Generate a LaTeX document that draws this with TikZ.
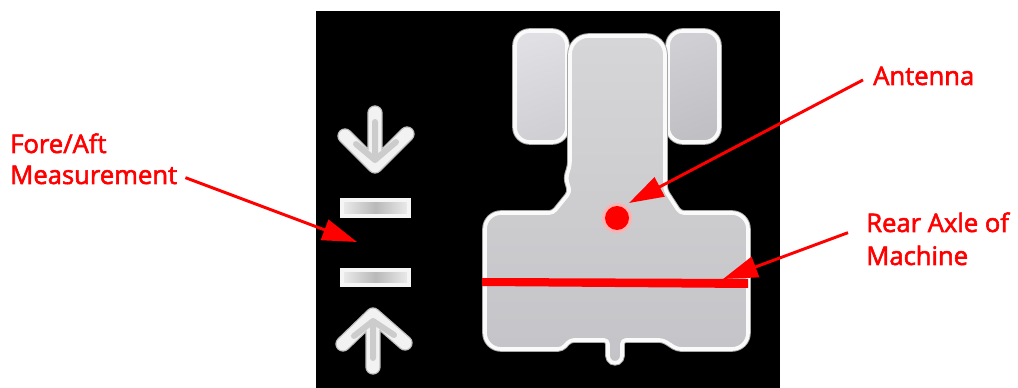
\documentclass[tikz,border=0pt]{standalone}
\usepackage{fontspec}
\setmainfont[FakeBold=2.2]{Open Sans}
\usetikzlibrary{arrows.meta}
\definecolor{callred}{RGB}{255,0,0}
\definecolor{wheelA}{RGB}{224,224,228}
\definecolor{wheelB}{RGB}{208,208,212}
\definecolor{wheelC}{RGB}{208,208,212}
\definecolor{wheelD}{RGB}{192,192,196}
\definecolor{bodyA}{RGB}{214,214,216}
\definecolor{bodyB}{RGB}{196,196,200}
\tikzset{
  px/.style={x=0.75pt,y=-0.75pt},
  lab/.style={text=callred,font=\fontsize{19.2pt}{24pt}\selectfont,inner sep=0pt,align=left},
  callout/.style={draw=callred,line width=2.2pt,-{Triangle[length=26pt,width=16pt,fill=callred]}},
  shapeedge/.style={preaction={draw=gray!70,line width=4.2pt},draw=white!96!gray,line width=2.8pt,line join=round},
  wheel/.style 2 args={shapeedge,rounded corners=11pt,left color=#1,right color=#2,shading angle=20},
  vehicle/.style={shapeedge,rounded corners=3pt,top color=bodyA,bottom color=bodyB},
  chevron/.style={line cap=round,line join=round,draw=gray!10,line width=9.5pt,
    preaction={draw=gray!50,line width=11.5pt,line cap=round,line join=round}},
  chevroncore/.style={line cap=round,line join=round,draw=gray!40,line width=4.5pt},
  barshape/.style={draw=gray!8,line width=2.4pt,left color=gray!15,right color=gray!15,middle color=gray!55,
    preaction={draw=gray!60,line width=3.6pt}},
}
\begin{document}
\begin{tikzpicture}[px]
\useasboundingbox (0,0) rectangle (1018,388);
\fill[white] (0,0) rectangle (1018,388);
\fill[black] (316,11) rectangle (780,388);
% left indicator
\draw[chevron] (375,113) -- (375,164) (345,136) -- (375,166) -- (407,134);
\draw[chevroncore] (375,122) -- (375,158) (356,144) -- (375,160) -- (396,142);
\path[barshape] (342,200) rectangle (409,216);
\path[barshape] (342,270) rectangle (409,285);
\draw[chevron] (373,367) -- (373,316) (343,344) -- (373,315) -- (405,343);
\draw[chevroncore] (373,358) -- (373,322) (354,336) -- (373,321) -- (394,335);
% machine
\path[wheel={wheelA}{wheelB}] (515,31) rectangle (567,142);
\path[wheel={wheelC}{wheelD}] (668,31) rectangle (719,142);
\path[vehicle] (570,142) [rounded corners=14pt] -- (570,36) -- (665,36) [rounded corners=3pt] -- (665,190) -- (680,213)
  [rounded corners=12pt] -- (748,213) -- (748,349) [rounded corners=3pt] -- (677,349) -- (663,340) -- (622,340) -- (622,360) -- (615,364) -- (608,360) -- (608,340) -- (570,340) -- (562,349)
  [rounded corners=12pt] -- (485,349) -- (485,213) [rounded corners=3pt] -- (553,213) -- (570,192) -- (566,178) -- (570,165) -- cycle;
% details
\fill[red!30!white] (617,218) circle[radius=15];
\node[circle,fill=callred,minimum size=18pt,inner sep=0pt] (dot) at (617,218) {};
\fill[callred] (482,278) -- (748,279) -- (748,288) -- (482,286) -- cycle;
% labels
\node[lab,anchor=base west] (ant) at (873,85) {Antenna};
\node[lab,anchor=base west] (fa) at (10,153) {Fore/Aft};
\node[lab,anchor=base west] (meas) at (10,184) {Measurement};
\node[lab,anchor=base west] (rear) at (866,232) {Rear Axle of};
\node[lab,anchor=base west] (mach) at (866,265) {Machine};
\coordinate (antTip) at (629,203);
\coordinate (rearTip) at (723,279);
\coordinate (foreTip) at (357,242);
\draw[callout] ([xshift=-7.5pt,yshift=-3pt]ant.west) -- (antTip);
\draw[callout] ([xshift=-13.5pt,yshift=-7.75pt]rear.west) -- (rearTip);
\draw[callout] ([xshift=6pt,yshift=-2pt]meas.east) -- (foreTip);
\end{tikzpicture}
\end{document}
